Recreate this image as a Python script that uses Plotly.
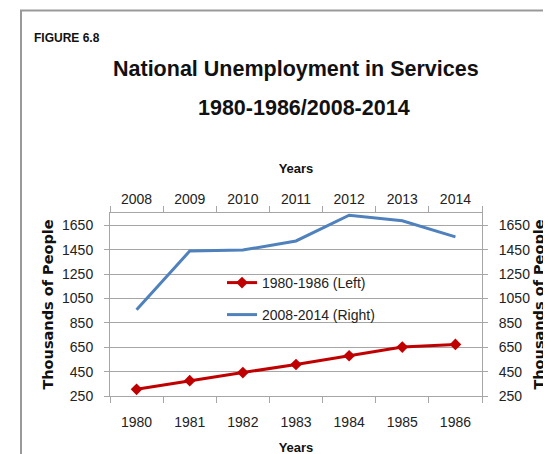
import plotly.graph_objects as go

# Data (thousands of people)
years_early = ["1980", "1981", "1982", "1983", "1984", "1985", "1986"]
years_late = ["2008", "2009", "2010", "2011", "2012", "2013", "2014"]
unemp_early = [305, 376, 442, 508, 580, 651, 673]
unemp_late = [957, 1438, 1446, 1521, 1732, 1686, 1554]

y_ticks = [250, 450, 650, 850, 1050, 1250, 1450, 1650]

SANS = "Liberation Sans, Arial, sans-serif"
GRAY = "#A6A6A6"
RED = "#C00000"
BLUE = "#4F81BD"

# the page puts the figure 8px in from the window corner; the figure runs
# a little past the window so nothing is squeezed at the edges
OFF = 8
W, H = 551, 470
L, T = 110 - OFF, 213 - OFF
PW, PH = 372, 183
R, B = W - L - PW, H - T - PH


def px_x(x):
    # window pixel -> paper x
    return (x - OFF - L) / PW


def px_y(y):
    # window pixel -> paper y
    return (T + PH - (y - OFF)) / PH


fig = go.Figure()
fig.add_trace(go.Scatter(
    x=years_early, y=unemp_early, name="1980-1986 (Left)",
    mode="lines+markers", line=dict(color=RED, width=3),
    marker=dict(symbol="diamond", size=9, color=RED),
    xaxis="x", yaxis="y", legend="legend",
))
fig.add_trace(go.Scatter(
    x=years_late, y=unemp_late, name="2008-2014 (Right)",
    mode="lines", line=dict(color=BLUE, width=3),
    xaxis="x2", yaxis="y2", legend="legend2",
))

x_common = dict(
    type="category", tickson="boundaries", ticks="outside", ticklen=6,
    tickcolor=GRAY, showline=True, linecolor=GRAY, linewidth=1,
    showgrid=False, automargin=False, range=[-0.5, 6.5],
    tickfont=dict(family=SANS, size=14, color="#222"),
)
y_common = dict(
    range=[250, 1750], tickvals=y_ticks, ticks="outside", ticklen=5,
    tickcolor=GRAY, showline=True, linecolor=GRAY, linewidth=1,
    zeroline=False, automargin=False,
    tickfont=dict(family=SANS, size=14, color="#222"),
)
ytitle_font = dict(family="DejaVu Sans", size=14.5, color="#111", weight="bold")
xtitle_font = dict(family=SANS, size=13, color="#111", weight="bold")

fig.update_layout(
    width=W, height=H,
    margin=dict(l=L, r=R, t=T, b=B),
    paper_bgcolor="white", plot_bgcolor="white",
    xaxis=dict(**x_common, categoryarray=years_early, categoryorder="array",
               ticklabelstandoff=13,
               title=dict(text="Years", standoff=14, font=xtitle_font)),
    xaxis2=dict(**x_common, categoryarray=years_late, categoryorder="array",
                overlaying="x", side="top", ticklabelstandoff=2,
                title=dict(text="Years", standoff=14, font=xtitle_font)),
    yaxis=dict(**y_common, showgrid=True, gridcolor=GRAY, gridwidth=1,
               ticklabelstandoff=8,
               title=dict(text="Thousands of People", standoff=4, font=ytitle_font)),
    yaxis2=dict(**y_common, overlaying="y", side="right", showgrid=False,
                ticklabelstandoff=8,
                title=dict(text="Thousands of People", standoff=4, font=ytitle_font)),
    legend=dict(x=px_x(222), y=px_y(283), xanchor="left", yanchor="middle",
                bgcolor="rgba(0,0,0,0)", itemwidth=30,
                font=dict(family=SANS, size=14, color="#222")),
    legend2=dict(x=px_x(222), y=px_y(315), xanchor="left", yanchor="middle",
                 bgcolor="rgba(0,0,0,0)", itemwidth=30,
                 font=dict(family=SANS, size=14, color="#222")),
    showlegend=True,
)

# Titles
fig.add_annotation(text="FIGURE 6.8", xref="paper", yref="paper",
                   x=px_x(32), y=px_y(38), xanchor="left", yanchor="middle",
                   showarrow=False,
                   font=dict(family=SANS, size=12, color="#111", weight="bold"))
fig.add_annotation(text="National Unemployment in Services", xref="paper", yref="paper",
                   x=px_x(296), y=px_y(69), xanchor="center", yanchor="middle",
                   showarrow=False,
                   font=dict(family=SANS, size=21.5, color="#111", weight="bold"))
fig.add_annotation(text="1980-1986/2008-2014", xref="paper", yref="paper",
                   x=px_x(304), y=px_y(108), xanchor="center", yanchor="middle",
                   showarrow=False,
                   font=dict(family=SANS, size=21.5, color="#111", weight="bold"))

# Chart frame (left and top edges)
frame = dict(color="#999999", width=2)
fig.add_shape(type="path", xref="paper", yref="paper",
              path=f"M {px_x(21)} {px_y(490)} L {px_x(21)} {px_y(10.5)} L {px_x(570)} {px_y(10.5)}",
              line=frame)

fig.write_html("out.html")
